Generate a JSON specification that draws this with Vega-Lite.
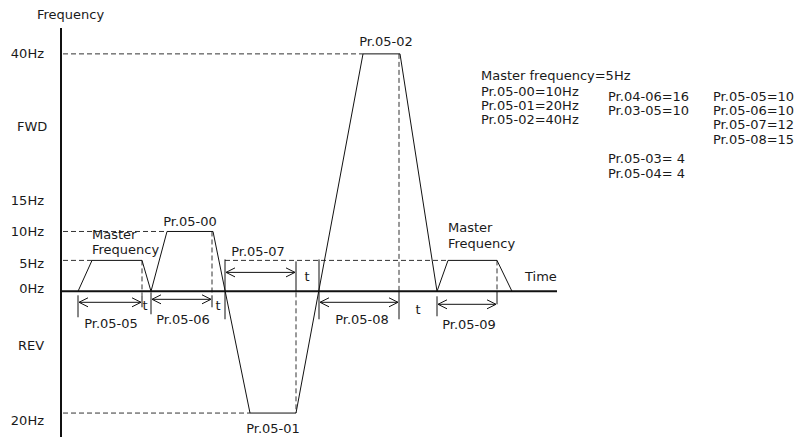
{
  "$schema": "https://vega.github.io/schema/vega-lite/v6.json",
  "width": 799,
  "height": 438,
  "padding": 0,
  "autosize": {"type": "fit", "contains": "padding"},
  "background": "white",
  "config": {"view": {"stroke": null}, "text": {"font": "DejaVu Sans", "fontSize": 13, "color": "#1a1a1a", "baseline": "middle"}},
  "datasets": {
    "wave": [
      {"i": 1, "t": 17, "L": 0}, {"i": 2, "t": 31, "L": 31}, {"i": 3, "t": 81, "L": 31}, {"i": 4, "t": 90, "L": 0},
      {"i": 5, "t": 106, "L": 60}, {"i": 6, "t": 152, "L": 60}, {"i": 7, "t": 189, "L": -122}, {"i": 8, "t": 235, "L": -122},
      {"i": 9, "t": 302, "L": 238}, {"i": 10, "t": 339, "L": 238}, {"i": 11, "t": 376, "L": 0}, {"i": 12, "t": 387, "L": 31},
      {"i": 13, "t": 436, "L": 31}, {"i": 14, "t": 451, "L": 0}
    ],
    "dashed": [
      {"t": 2, "L": 238, "t2": 302, "L2": 238},
      {"t": 2, "L": 60, "t2": 106, "L2": 60},
      {"t": 2, "L": 31, "t2": 31, "L2": 31},
      {"t": 164, "L": 31, "t2": 387, "L2": 31},
      {"t": 2, "L": -122, "t2": 189, "L2": -122},
      {"t": 81, "L": 31, "t2": 81, "L2": -4},
      {"t": 151, "L": 60, "t2": 151, "L2": -4},
      {"t": 235, "L": -1, "t2": 235, "L2": -122},
      {"t": 338, "L": 238, "t2": 338, "L2": 0},
      {"t": 436, "L": 31, "t2": 436, "L2": 0}
    ],
    "axes": [
      {"t": 0, "L": 264, "t2": 0, "L2": -146},
      {"t": 0, "L": 0, "t2": 496, "L2": 0}
    ],
    "ticks": [
      {"t": 17, "L": -4, "t2": 17, "L2": -26},
      {"t": 81, "L": -4, "t2": 81, "L2": -16},
      {"t": 90, "L": -1, "t2": 90, "L2": -23},
      {"t": 151, "L": -4, "t2": 151, "L2": -16},
      {"t": 164, "L": 32, "t2": 164, "L2": -28},
      {"t": 235, "L": 30, "t2": 235, "L2": 0},
      {"t": 258, "L": 32, "t2": 258, "L2": -28},
      {"t": 338, "L": 0, "t2": 338, "L2": -28},
      {"t": 376, "L": -5, "t2": 376, "L2": -25},
      {"t": 436, "L": 0, "t2": 436, "L2": -13}
    ],
    "arrows": [
      {"t": 18, "t2": 80, "L": -11},
      {"t": 91, "t2": 150, "L": -8},
      {"t": 165, "t2": 234, "L": 19},
      {"t": 259, "t2": 337, "L": -11},
      {"t": 377, "t2": 435, "L": -13}
    ],
    "centerText": [
      {"t": 129, "L": 69, "label": "Pr.05-00"},
      {"t": 212, "L": -138, "label": "Pr.05-01"},
      {"t": 325, "L": 250, "label": "Pr.05-02"},
      {"t": 50, "L": -33, "label": "Pr.05-05"},
      {"t": 122, "L": -29, "label": "Pr.05-06"},
      {"t": 197, "L": 39, "label": "Pr.05-07"},
      {"t": 301, "L": -29, "label": "Pr.05-08"},
      {"t": 408, "L": -34, "label": "Pr.05-09"},
      {"t": 84, "L": -15, "label": "t"},
      {"t": 157, "L": -15, "label": "t"},
      {"t": 246, "L": 14, "label": "t"},
      {"t": 357, "L": -19, "label": "t"}
    ],
    "leftText": [
      {"t": 31, "L": 56, "label": "Master"},
      {"t": 31, "L": 41, "label": "Frequency"},
      {"t": 387, "L": 63, "label": "Master"},
      {"t": 387, "L": 47, "label": "Frequency"},
      {"t": 464, "L": 14, "label": "Time"},
      {"t": -24, "L": 277, "label": "Frequency"},
      {"t": -44, "L": 165, "label": "FWD"},
      {"t": -43, "L": -55, "label": "REV"},
      {"t": 420, "L": 216, "label": "Master frequency=5Hz"},
      {"t": 420, "L": 200, "label": "Pr.05-00=10Hz"},
      {"t": 420, "L": 186, "label": "Pr.05-01=20Hz"},
      {"t": 420, "L": 172, "label": "Pr.05-02=40Hz"},
      {"t": 547, "L": 195, "label": "Pr.04-06=16"},
      {"t": 547, "L": 181, "label": "Pr.03-05=10"},
      {"t": 547, "L": 133, "label": "Pr.05-03= 4"},
      {"t": 547, "L": 118, "label": "Pr.05-04= 4"},
      {"t": 652, "L": 195, "label": "Pr.05-05=10"},
      {"t": 652, "L": 181, "label": "Pr.05-06=10"},
      {"t": 652, "L": 167, "label": "Pr.05-07=12"},
      {"t": 652, "L": 152, "label": "Pr.05-08=15"}
    ],
    "rightText": [
      {"t": -17, "L": 238, "label": "40Hz"},
      {"t": -17, "L": 91, "label": "15Hz"},
      {"t": -17, "L": 59, "label": "10Hz"},
      {"t": -17, "L": 27, "label": "5Hz"},
      {"t": -17, "L": 2, "label": "0Hz"},
      {"t": -17, "L": -130, "label": "20Hz"}
    ]
  },
  "encoding": {
    "x": {"field": "t", "type": "quantitative", "scale": {"domain": [-61, 738], "nice": false, "zero": false}, "axis": null},
    "y": {"field": "L", "type": "quantitative", "scale": {"domain": [-146, 292], "nice": false, "zero": false}, "axis": null}
  },
  "layer": [
    {
      "data": {"name": "dashed"},
      "mark": {"type": "rule", "color": "#333", "strokeWidth": 1, "strokeDash": [5, 3]},
      "encoding": {"x2": {"field": "t2"}, "y2": {"field": "L2"}}
    },
    {
      "data": {"name": "axes"},
      "mark": {"type": "rule", "color": "#111", "strokeWidth": 2},
      "encoding": {"x2": {"field": "t2"}, "y2": {"field": "L2"}}
    },
    {
      "data": {"name": "ticks"},
      "mark": {"type": "rule", "color": "#111", "strokeWidth": 1},
      "encoding": {"x2": {"field": "t2"}, "y2": {"field": "L2"}}
    },
    {
      "data": {"name": "wave"},
      "mark": {"type": "line", "color": "#111", "strokeWidth": 1},
      "encoding": {"order": {"field": "i", "type": "quantitative"}}
    },
    {
      "data": {"name": "arrows"},
      "mark": {"type": "rule", "color": "#111", "strokeWidth": 1},
      "encoding": {"x2": {"field": "t2"}}
    },
    {
      "data": {"name": "arrows"},
      "mark": {"type": "point", "shape": "M2,-1L0,0L2,1", "filled": false, "stroke": "#111", "strokeWidth": 1, "size": 81, "opacity": 1}
    },
    {
      "data": {"name": "arrows"},
      "mark": {"type": "point", "shape": "M-2,-1L0,0L-2,1", "filled": false, "stroke": "#111", "strokeWidth": 1, "size": 81, "opacity": 1},
      "encoding": {"x": {"field": "t2", "type": "quantitative"}}
    },
    {
      "data": {"name": "centerText"},
      "mark": {"type": "text", "align": "center"},
      "encoding": {"text": {"field": "label"}}
    },
    {
      "data": {"name": "leftText"},
      "mark": {"type": "text", "align": "left"},
      "encoding": {"text": {"field": "label"}}
    },
    {
      "data": {"name": "rightText"},
      "mark": {"type": "text", "align": "right"},
      "encoding": {"text": {"field": "label"}}
    }
  ]
}
